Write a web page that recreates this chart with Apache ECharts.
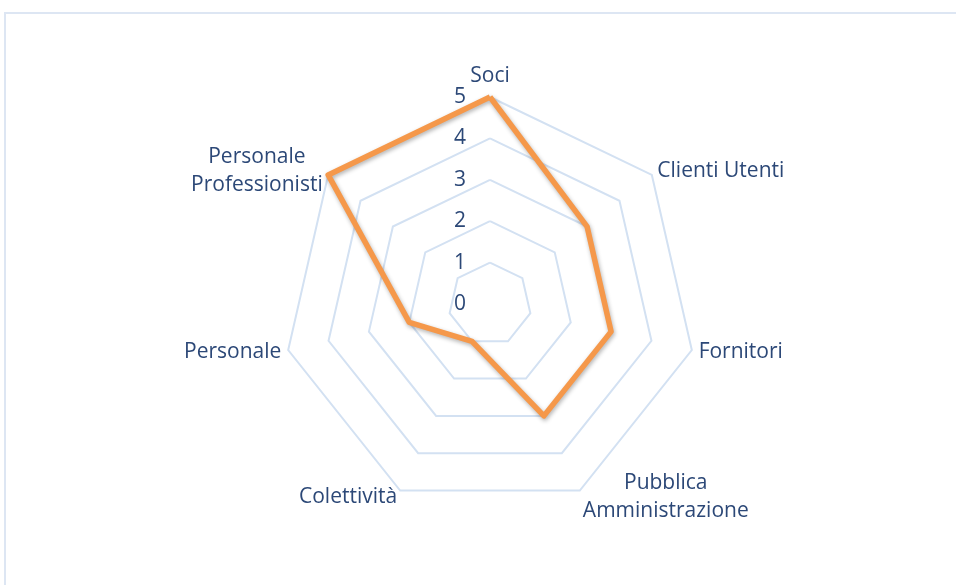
<!DOCTYPE html>
<html>
<head>
<meta charset="utf-8">
<script src="https://cdn.jsdelivr.net/npm/echarts@6/dist/echarts.min.js"></script>
<style>
  html, body { margin: 0; padding: 0; background: #fff; overflow: hidden; }
  .frame {
    position: absolute;
    left: 4px;
    top: 12px;
    width: 1000px;
    height: 700px;
    border: 2px solid #dde6f3;
  }
  #radarChart { position: absolute; left: 0; top: 0; width: 956px; height: 585px; }
</style>
</head>
<body>
<div class="frame"></div>
<div id="radarChart"></div>
<script>
// categorie in senso orario partendo dall'alto
const categories = [
  "Soci",
  "Clienti Utenti",
  "Fornitori",
  "Pubblica\nAmministrazione",
  "Colettività",
  "Personale",
  "Personale\nProfessionisti"
];
const values = [5, 3, 3, 3, 1, 2, 5];
const axisMax = 5;

// echarts dispone gli indicatori in senso antiorario: giro l'ordine
const order = [0].concat(categories.map((c, i) => i).slice(1).reverse());

const textColor = "#2c4877";
const font = "'Open Sans', Lato, sans-serif";
const fontSize = 21;

// le etichette su due righe sono centrate tra loro
const nameFormatter = (name) => {
  if (name.indexOf("\n") < 0) return name;
  return name.split("\n").map(s => "{c|" + s + "}").join("\n");
};

let myChart = echarts.init(document.getElementById("radarChart"));
myChart.setOption({
  animation: false,
  radar: {
    center: [490, 304],
    radius: 207,
    startAngle: 90,
    shape: "polygon",
    splitNumber: 5,
    nameGap: 7,
    axisName: {
      color: textColor,
      fontFamily: font,
      fontSize: fontSize,
      lineHeight: 28,
      formatter: nameFormatter,
      rich: {
        c: { align: "center", color: textColor, fontFamily: font, fontSize: fontSize, lineHeight: 28 }
      }
    },
    axisLine: { show: false },
    axisTick: { show: false },
    axisLabel: { show: false },
    splitArea: { show: false },
    splitLine: {
      lineStyle: { color: "#d3e1f2", width: 2 }
    },
    indicator: order.map((i, k) => ({
      name: categories[i],
      min: 0,
      max: axisMax,
      axisLabel: k === 0 ? {
        show: true,
        color: textColor,
        fontFamily: font,
        fontSize: fontSize,
        margin: 24
      } : undefined
    }))
  },
  series: [
    {
      type: "radar",
      symbol: "none",
      lineStyle: {
        color: "#f5984a",
        width: 5.5,
        shadowColor: "rgba(0,0,0,0.3)",
        shadowBlur: 4,
        shadowOffsetX: 1,
        shadowOffsetY: 2
      },
      data: [
        { value: order.map(i => values[i]) }
      ]
    }
  ]
});
</script>
</body>
</html>
